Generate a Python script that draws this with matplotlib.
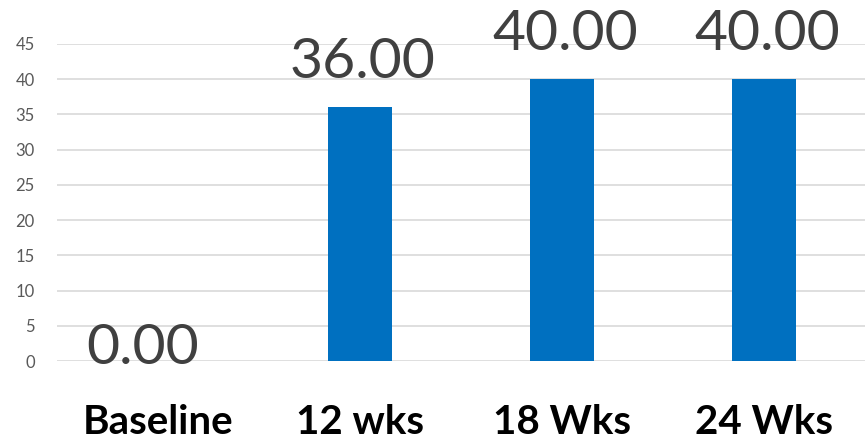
import matplotlib.pyplot as plt

categories = ["Baseline", "12 wks", "18 Wks", "24 Wks"]
values = [0.0, 36.0, 40.0, 40.0]
yticks = [0, 5, 10, 15, 20, 25, 30, 35, 40, 45]

plt.rcParams['font.family'] = ['Lato', 'DejaVu Sans']

fig = plt.figure(figsize=(8.65, 4.43), dpi=100)
ax = fig.add_axes([57 / 865, 1 - 361 / 443, 1 - 57 / 865, 317 / 443])

x = range(len(categories))
ax.bar(x, values, width=0.32, color="#0070C0", zorder=3)

ax.set_xlim(-0.5, len(categories) - 0.5)
ax.set_ylim(0, 45)
ax.set_yticks(yticks)
ax.set_yticklabels([str(t) for t in yticks], fontsize=12, color="#595959")
ax.set_xticks(list(x))
ax.set_xticklabels(categories, fontsize=29, fontweight="bold", color="black")
ax.tick_params(axis="y", length=0, pad=16)
ax.tick_params(axis="x", length=0, pad=31)

ax.grid(axis="y", color="#D9D9D9", linewidth=1.2, zorder=0)
for s in ax.spines.values():
    s.set_visible(False)

# Excel pushes the zero label a bit left and down onto the axis
for i, v in enumerate(values):
    off = (2, 14) if v > 0 else (-11, -9)
    ax.annotate(f"{v:.2f}", (i, v), xytext=off, textcoords="offset points",
                ha="center", va="bottom", fontsize=41, color="#404040",
                annotation_clip=False)

fig.savefig("out.png", dpi=100)
